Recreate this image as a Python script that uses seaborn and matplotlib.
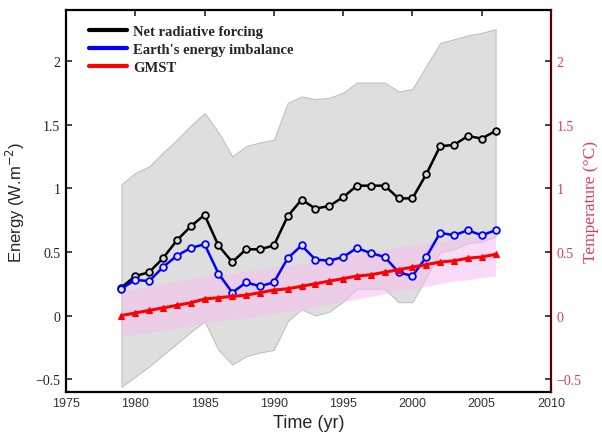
import numpy as np
import pandas as pd
import matplotlib
matplotlib.use("Agg")
import matplotlib.pyplot as plt
from matplotlib.lines import Line2D
import seaborn as sns

# ---- data -----------------------------------------------------------------
years = list(range(1979, 2007))

net_forcing = [0.22, 0.31, 0.34, 0.45, 0.59, 0.70, 0.79, 0.55, 0.42, 0.52,
               0.52, 0.55, 0.78, 0.91, 0.84, 0.86, 0.93, 1.02, 1.02, 1.02,
               0.92, 0.92, 1.11, 1.33, 1.34, 1.41, 1.39, 1.45]
forcing_upper = [1.03, 1.12, 1.17, 1.28, 1.38, 1.49, 1.59, 1.44, 1.25, 1.33,
                 1.36, 1.38, 1.67, 1.72, 1.70, 1.71, 1.75, 1.83, 1.83, 1.83,
                 1.76, 1.78, 1.96, 2.14, 2.17, 2.20, 2.22, 2.25]
forcing_lower = [-0.56, -0.48, -0.40, -0.31, -0.22, -0.13, -0.045, -0.27, -0.385, -0.32,
                 -0.29, -0.27, -0.045, 0.05, 0.00, 0.03, 0.11, 0.21, 0.21, 0.21,
                 0.105, 0.105, 0.30, 0.50, 0.52, 0.57, 0.58, 0.62]

imbalance = [0.21, 0.28, 0.27, 0.38, 0.47, 0.53, 0.56, 0.33, 0.18, 0.26,
             0.23, 0.26, 0.45, 0.55, 0.44, 0.43, 0.46, 0.53, 0.49, 0.46,
             0.34, 0.31, 0.46, 0.65, 0.63, 0.67, 0.63, 0.67]

gmst = [0.00, 0.02, 0.04, 0.06, 0.08, 0.10, 0.13, 0.14, 0.15, 0.16,
        0.18, 0.20, 0.21, 0.23, 0.25, 0.27, 0.29, 0.31, 0.32, 0.34,
        0.36, 0.38, 0.40, 0.42, 0.43, 0.45, 0.46, 0.48]
gmst_upper = [0.19, 0.21, 0.23, 0.25, 0.27, 0.29, 0.31, 0.32, 0.33, 0.35,
              0.36, 0.38, 0.39, 0.41, 0.43, 0.45, 0.47, 0.49, 0.50, 0.52,
              0.54, 0.55, 0.57, 0.58, 0.60, 0.61, 0.62, 0.64]
gmst_lower = [-0.17, -0.15, -0.13, -0.12, -0.10, -0.08, -0.06, -0.04, -0.03, -0.02,
              0.00, 0.02, 0.03, 0.05, 0.07, 0.09, 0.11, 0.13, 0.15, 0.17,
              0.19, 0.21, 0.23, 0.25, 0.27, 0.28, 0.30, 0.31]

series_names = ["Net radiative forcing", "Earth's energy imbalance", "GMST"]
x_ticks = [1975, 1980, 1985, 1990, 1995, 2000, 2005, 2010]
y_ticks = [-0.5, 0, 0.5, 1, 1.5, 2]
y_tick_labels = ["\u22120.5", "0", "0.5", "1", "1.5", "2"]

df = pd.DataFrame({"year": years, "forcing": net_forcing,
                   "imbalance": imbalance, "gmst": gmst})

# ---- figure ---------------------------------------------------------------
sns.set_style("white")
plt.rcParams["font.family"] = ["Liberation Sans", "DejaVu Sans"]

fig = plt.figure(figsize=(6.02, 4.39), dpi=100)
ax = fig.add_axes([0.1096, 0.105, 0.8057, 0.870])

serif = ["Liberation Serif", "DejaVu Serif"]
temp_red = "#e23a5e"

# uncertainty envelopes
ax.fill_between(years, forcing_lower, forcing_upper, color="#dedede",
                edgecolor="#c2c2c2", linewidth=0.8, zorder=1)
ax.fill_between(years, gmst_lower, gmst_upper, color="#f6bff2",
                alpha=0.55, linewidth=0, zorder=2)

# series
sns.lineplot(data=df, x="year", y="forcing", ax=ax, color="black",
             linewidth=1.8, marker="o", markersize=4.8,
             markerfacecolor="#d8d8d8", markeredgecolor="black",
             markeredgewidth=1.3, zorder=3)
sns.lineplot(data=df, x="year", y="imbalance", ax=ax, color="#0000ff",
             linewidth=1.8, marker="o", markersize=4.8,
             markerfacecolor="#e6e6ff", markeredgecolor="#0000ff",
             markeredgewidth=1.3, zorder=4)
sns.lineplot(data=df, x="year", y="gmst", ax=ax, color="#ff0000",
             linewidth=2.2, marker="^", markersize=5,
             markerfacecolor="#ff0000", markeredgecolor="#ff0000",
             markeredgewidth=0.8, zorder=5)

ax.set_xlim(1975, 2010)
ax.set_ylim(-0.6, 2.4)
ax.set_xticks(x_ticks)
ax.set_xticklabels([str(t) for t in x_ticks], fontsize=9, color="#333333")
ax.set_yticks(y_ticks)
ax.set_yticklabels(y_tick_labels, fontsize=10, family=serif, color="#222222")
ax.tick_params(axis="both", direction="in", length=4, width=1.2,
               top=True, right=False, pad=4)
ax.set_xlabel("Time (yr)", fontsize=13, labelpad=3)
ax.set_ylabel("Energy (W.m$^{-2}$)", fontsize=12, labelpad=6)
for side in ["left", "bottom", "top"]:
    ax.spines[side].set_linewidth(1.6)
    ax.spines[side].set_color("black")
ax.spines["right"].set_visible(False)

# temperature axis on the right
ax2 = ax.twinx()
ax2.set_ylim(-0.6, 2.4)
ax2.set_yticks(y_ticks)
ax2.set_yticklabels(y_tick_labels, fontsize=10, family=serif, color=temp_red)
ax2.tick_params(axis="y", direction="in", length=4, width=1.2,
                colors="#222222", labelcolor=temp_red, pad=4)
ax2.set_ylabel("Temperature (\u00b0C)", fontsize=12.5, family=serif,
               color=temp_red, labelpad=1)
for side in ["left", "bottom", "top"]:
    ax2.spines[side].set_visible(False)
ax2.spines["right"].set_color("#5a0000")
ax2.spines["right"].set_linewidth(1.6)

# legend
handles = [Line2D([], [], color=c, linewidth=3)
           for c in ["black", "#0000ff", "#ff0000"]]
ax.legend(handles, series_names, loc="upper left",
          bbox_to_anchor=(0.03, 0.985), frameon=False,
          prop={"family": serif, "size": 10.5, "weight": "bold"},
          handlelength=2.6, handletextpad=0.4, labelspacing=0.35,
          borderaxespad=0.2)

fig.savefig("out.png", dpi=100)
